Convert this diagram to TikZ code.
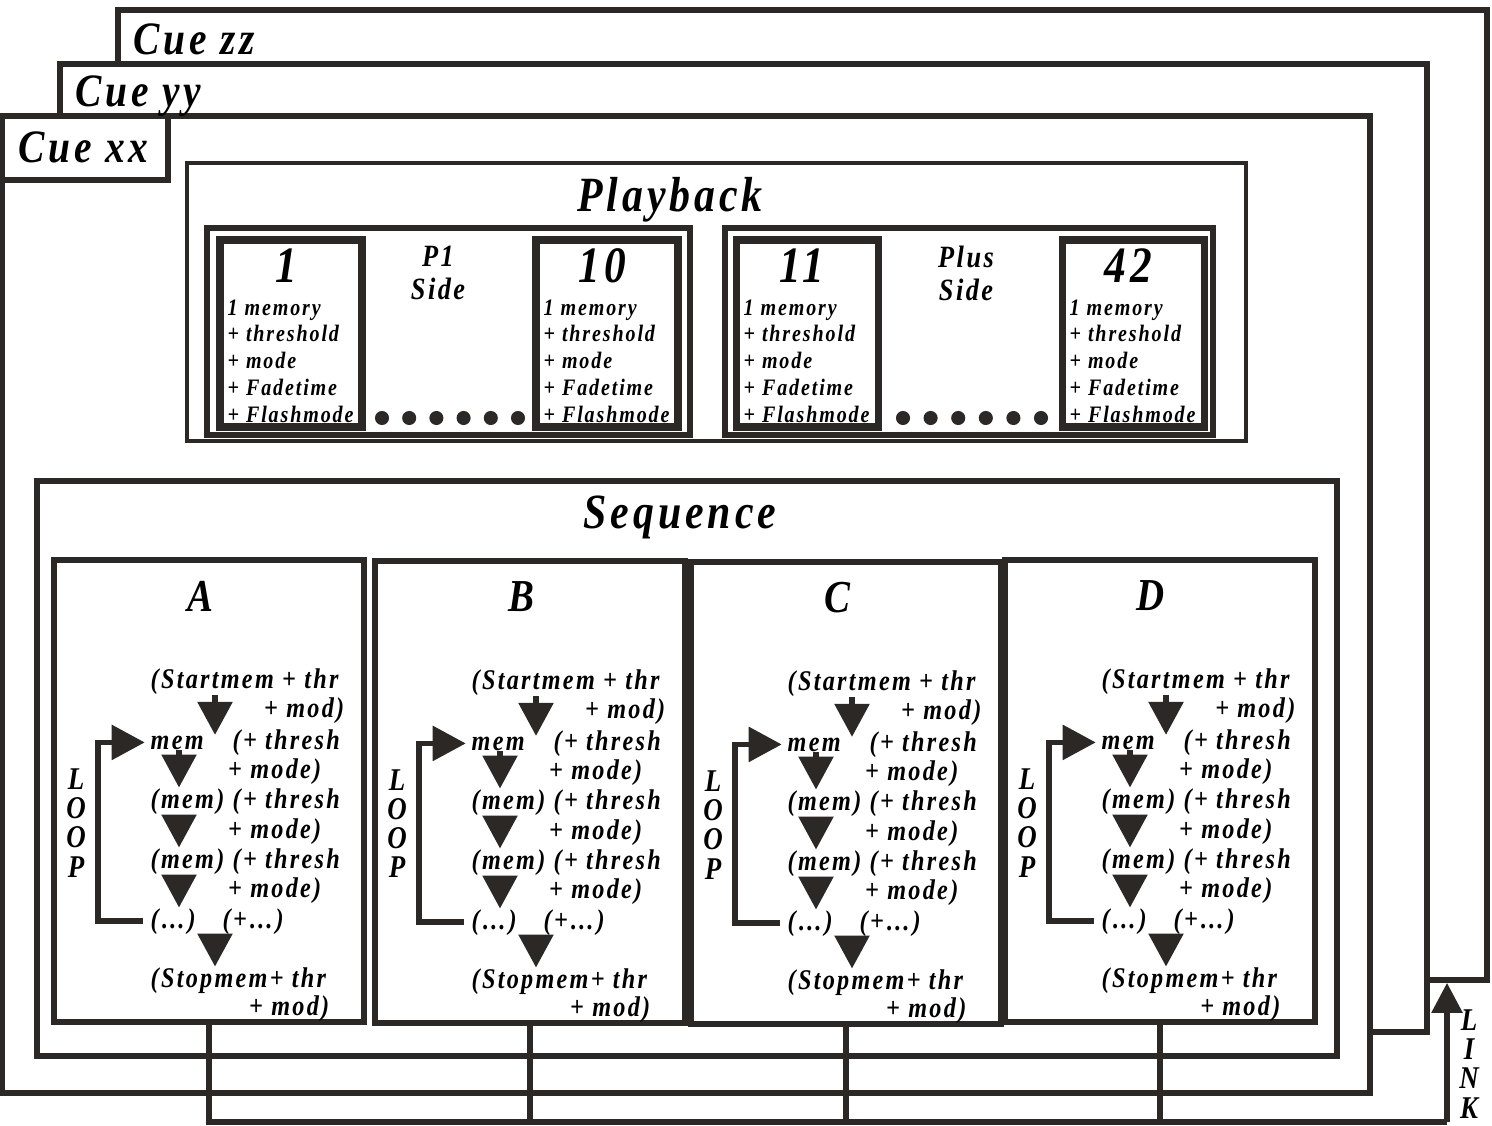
\documentclass[tikz,border=0pt]{standalone}
\usepackage{fontspec}
\setmainfont{Liberation Serif}[LetterSpace=8, FakeStretch=0.85]
\usepackage{tikz}
\usetikzlibrary{arrows.meta,fit,positioning}
\definecolor{linecol}{HTML}{2B2825}

\newcommand{\fCue}{\fontsize{13.2}{15}\selectfont\bfseries\itshape}
\newcommand{\fHead}{\fontsize{14}{16}\selectfont\bfseries\itshape}
\newcommand{\fNum}{\fontsize{14.5}{16}\selectfont\bfseries\itshape}
\newcommand{\fCell}{\fontsize{6.7}{7.6}\selectfont\bfseries\itshape}
\newcommand{\fSide}{\fontsize{8.8}{9.4}\selectfont\bfseries\itshape}
\newcommand{\fBox}{\fontsize{13}{14}\selectfont\bfseries\itshape}
\newcommand{\fFlow}{\fontsize{8.1}{9}\selectfont\bfseries\itshape}
\newcommand{\fStack}{\fontsize{9}{8.3}\selectfont\bfseries\itshape}

\tikzset{
  cuebox/.style={draw=linecol, line width=1.6pt, fill=white, inner sep=0pt},
  panel/.style={draw=linecol, line width=1.4pt, inner sep=0pt},
  cell/.style={draw=linecol, line width=2pt, inner sep=0pt},
  wire/.style={draw=linecol, line width=1.6pt},
  tip/.style={-{Triangle[width=3.4mm,length=3.3mm]}},
  cuelbl/.style={font=\fCue, inner sep=0pt},
  headlbl/.style={font=\fHead, inner sep=0pt},
  numlbl/.style={font=\fNum, inner sep=0pt},
  celltxt/.style={font=\fCell, inner sep=0pt, align=left},
  sidelbl/.style={font=\fSide, inner sep=0pt, align=center},
  boxlbl/.style={font=\fBox, inner sep=0pt},
  flowtxt/.style={font=\fFlow, inner sep=0pt},
  stacklbl/.style={font=\fStack, inner sep=0pt, align=center}
}

\begin{document}
\begin{tikzpicture}[x=0.01cm, y=-0.01cm]
\useasboundingbox (0,0) rectangle (1492,1125);

% stack of cues
\node[cuebox, fit={(118,10) (1487,980)}] (cuezz) {};
\node[cuebox, fit={(60,64) (1427,1032)}] (cueyy) {};
\node[cuebox, fit={(2,116) (1370,1093)}] (cuexx) {};
\node[cuebox, fit={(2,116) (168,180)}] (tabxx) {};
\node[cuelbl, anchor=base west] (lblzz) at (133,55) {Cue zz};
\node[cuelbl, anchor=base west] (lblyy) at (75,107) {Cue yy};
\node[cuelbl, anchor=base west] (lblxx) at (18,163) {Cue xx};

% playback
\node[panel, fit={(187,163) (1246,441)}] (playback) {};
\node[headlbl, anchor=base] (playtitle) at (670,212) {Playback};
\node[panel, line width=1.7pt, fit={(207,228) (690,435)}] (groupone) {};
\node[panel, line width=1.7pt, fit={(725,228) (1213,435)}] (groupplus) {};
\node[sidelbl, anchor=north] (sideone) at (438,245) {P1\\Side};
\node[sidelbl, anchor=north] (sideplus) at (966,245) {Plus\\Side};

\foreach \c/\x/\num in {one/220/1, ten/536/10, eleven/736/11, fortytwo/1062/42} {
  \node[cell, fit={(\x,240) (\x+142,427)}] (cell\c) {};
  \node[numlbl, anchor=base] (num\c) at (\x+66,283) {\num};
  \node[celltxt, anchor=north west] (txt\c) at (\x+7,299)
    {1 memory\\+ threshold\\+ mode\\+ Fadetime\\+ Flashmode};
}

% dots between the cells
\foreach \i in {0,...,5} {
  \fill[linecol] (382+27.2*\i,418) circle (2pt);
  \fill[linecol] (903+27.6*\i,418) circle (2pt);
}

% sequence
\node[panel, line width=1.6pt, fit={(37,481) (1337,1056)}] (sequence) {};
\node[headlbl, anchor=base] (seqtitle) at (680,528) {Sequence};

\foreach \n/\dx/\dy in {A/0/0, B/321/1, C/637/2, D/951/0} {
  \begin{scope}[shift={(\dx,\dy)}]
    \node[panel, line width=1.6pt, fit={(54,560) (364,1022)}] (box\n) {};
    \node[boxlbl] (title\n) at (200,596) {\n};
    \coordinate (colL\n) at (179,0);
    \coordinate (colR\n) at (215,0);
    % steps
    \node[flowtxt, anchor=base west] (start\n) at (150,688) {(Startmem + thr};
    \node[flowtxt, anchor=base east] (startb\n) at (345,717) {+ mod)};
    \node[flowtxt, anchor=base west] (mem\n) at (150,749) {mem};
    \node[flowtxt, anchor=base west] (memr\n) at (232,749) {(+ thresh};
    \node[flowtxt, anchor=base east] (memb\n) at (322,778) {+ mode)};
    \node[flowtxt, anchor=base west] (memtwo\n) at (150,808) {(mem)};
    \node[flowtxt, anchor=base west] (memtwor\n) at (232,808) {(+ thresh};
    \node[flowtxt, anchor=base east] (memtwob\n) at (322,838) {+ mode)};
    \node[flowtxt, anchor=base west] (memthree\n) at (150,868) {(mem)};
    \node[flowtxt, anchor=base west] (memthreer\n) at (232,868) {(+ thresh};
    \node[flowtxt, anchor=base east] (memthreeb\n) at (322,897) {+ mode)};
    \node[flowtxt, anchor=base west] (etc\n) at (150,928) {(…)};
    \node[flowtxt, anchor=base west] (etcr\n) at (222,928) {(+…)};
    \node[flowtxt, anchor=base west] (stop\n) at (150,987) {(Stopmem+ thr};
    \node[flowtxt, anchor=base east] (stopb\n) at (330,1015) {+ mod)};
    \node[stacklbl, anchor=north] (loop\n) at (76,768) {L\\O\\O\\P};
    % arrows
    \draw[wire, tip] (start\n.south -| colR\n) -- (mem\n.north -| colR\n);
    \draw[wire, tip] (mem\n.south -| colL\n) -- (memtwo\n.north -| colL\n);
    \draw[wire, tip] (memtwo\n.south -| colL\n) -- (memthree\n.north -| colL\n);
    \draw[wire, tip] (memthree\n.south -| colL\n) -- (etc\n.north -| colL\n);
    \draw[wire, tip] (etcr\n.south -| colR\n) -- (stop\n.north -| colR\n);
    \draw[wire, tip, shorten <=2pt, shorten >=1.5pt] (etc\n.west) -- ++(-52,0) |- (mem\n.west);
  \end{scope}
}

% link back to the next cue
\coordinate (linkfoot) at (1447,1122);
\draw[wire] (boxA.south) |- (linkfoot);
\foreach \n in {B,C,D}
  \draw[wire] (box\n.south) -- (box\n.south |- linkfoot);
\draw[wire, -{Triangle[width=3mm,length=3mm]}] (linkfoot) -- (cuezz.south -| linkfoot);
\node[stacklbl, anchor=north] (link) at (1469,1009) {L\\I\\N\\K};
\end{tikzpicture}
\end{document}
